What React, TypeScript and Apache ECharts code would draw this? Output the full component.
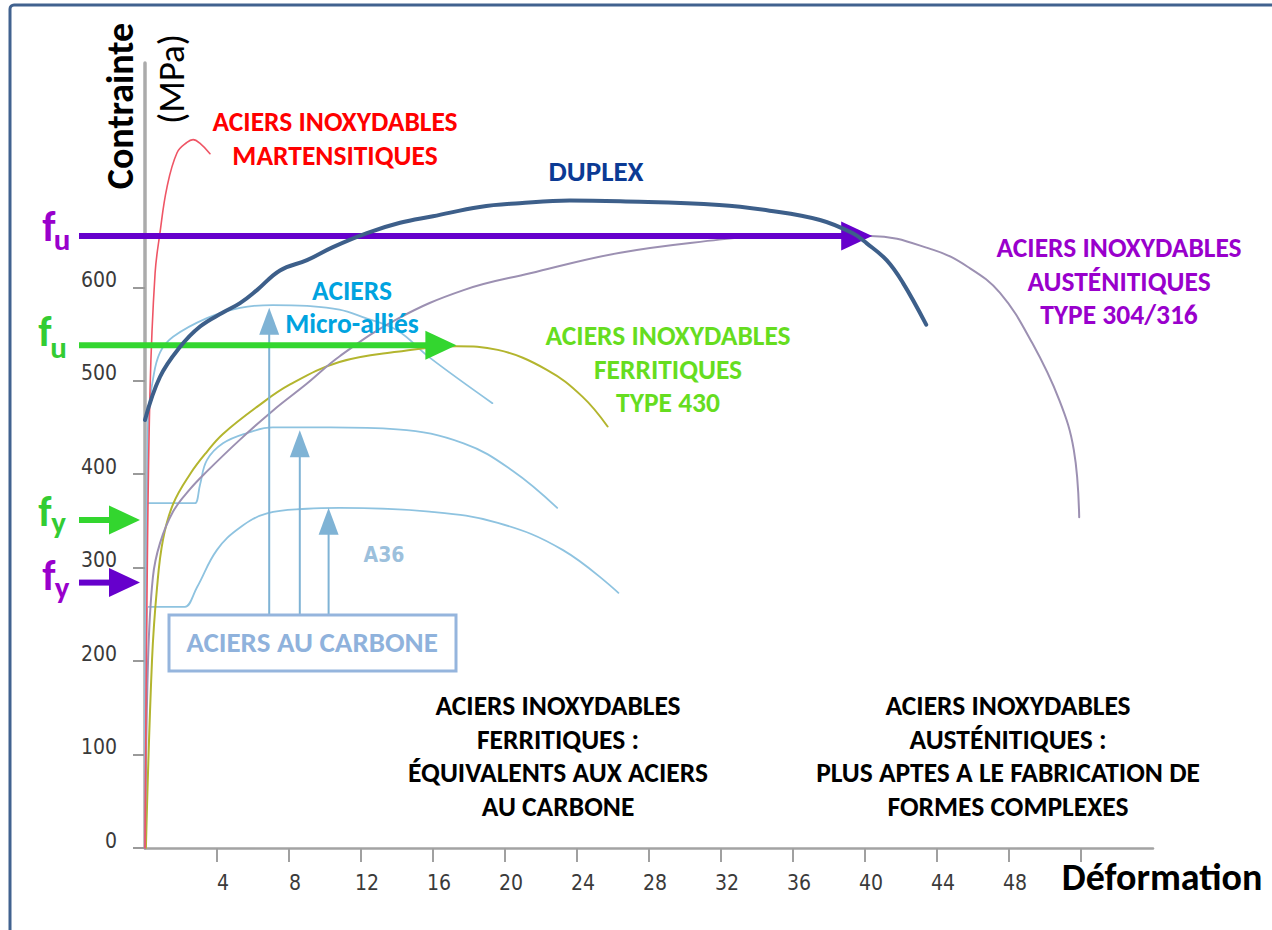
import React, { useEffect, useRef } from "react";
import * as echarts from "echarts";

// ---------- data (strain %, stress MPa) ----------
const xTickValues = [4, 8, 12, 16, 20, 24, 28, 32, 36, 40, 44, 48, 52];
const xLabelValues = [4, 8, 12, 16, 20, 24, 28, 32, 36, 40, 44, 48];
const yLabelValues = [0, 100, 200, 300, 400, 500, 600];

const martensiticX = [0, 0.1, 0.28, 0.56, 0.83, 1.22, 1.78, 2.33, 2.67, 3.06, 3.61];
const martensiticY = [0, 250, 490, 615, 658, 707, 744, 755, 758, 754, 743];

const duplexX = [0, 0.83, 1.94, 3.06, 4.33, 5.28, 6.22, 7.5, 9.0, 10.44, 12.33, 14.17, 16.0, 18.6, 20.8, 23.6, 26.4, 31.9, 34.7, 37.5, 39.3, 40.1, 41.2, 42.1, 43.4];
const duplexY = [458, 504, 536, 558, 573, 583, 597, 618, 629, 643, 658, 669, 676, 686, 690, 693, 692, 688, 682, 672, 658, 647, 629, 605, 560];

const austeniticX = [0, 0.17, 0.44, 0.83, 1.56, 2.5, 3.44, 5.28, 7.1, 9.0, 10.8, 14.0, 17.7, 21.4, 26.4, 31.9, 33.8, 37.0, 40.3, 43.8, 45.7, 47.5, 49.3, 50.8, 51.6, 51.9];
const austeniticY = [0, 201, 290, 326, 360, 384, 403, 437, 468, 497, 526, 566, 597, 615, 637, 651, 654, 655, 655, 640, 622, 594, 540, 479, 426, 354];

const ferriticX = [0.05, 0.39, 0.67, 1.0, 1.56, 2.5, 3.44, 4.33, 6.22, 8.06, 10.8, 14.0, 17.3, 19.6, 22.3, 24.3, 25.7];
const ferriticY = [0, 201, 279, 330, 368, 400, 424, 443, 472, 496, 520, 531, 537, 533, 512, 483, 451];

const microX = [0, 0.17, 0.44, 0.83, 1.56, 3.44, 5.28, 7.1, 9.0, 10.8, 12.1, 14.0, 15.8, 19.3];
const microY = [0, 458, 501, 530, 547, 567, 578, 581, 580, 576, 568, 554, 525, 476];

const carbon450X = [0, 0.17, 2.5, 2.78, 3.06, 3.44, 4.33, 5.67, 7.1, 10.3, 14.0, 17.7, 20.4, 22.9];
const carbon450Y = [0, 369, 369, 369, 389, 415, 433, 444, 450, 450, 448, 433, 404, 364];

const a36X = [0, 0.17, 1.95, 2.22, 2.89, 4.0, 5.28, 6.78, 9.0, 10.8, 15.8, 19.6, 23.2, 26.3];
const a36Y = [0, 258, 258, 258, 279, 319, 343, 358, 363, 364, 360, 348, 319, 273];

// carbon-steel "rise" arrows: x position, tip stress, base stress
const carbonArrowX = [6.9, 8.6, 10.2];
const carbonArrowTip = [578, 447, 364];
const carbonArrowBase = 249;

// f_u / f_y levels (MPa) and where the arrows end (strain)
const fuAusteniticLevel = 655;
const fuAusteniticTipX = 40.4;
const fuFerriticLevel = 538;
const fuFerriticTipX = 17.3;
const fyFerriticLevel = 351;
const fyAusteniticLevel = 284;

const FONT = 'Carlito, Lato, "Open Sans", sans-serif';
const NARROW = '"Liberation Sans Narrow", "DejaVu Sans Condensed", sans-serif';
const PURPLE_ARROW = "#6600cc";
const PURPLE_TEXT = "#9900cc";
const GREEN_ARROW = "#33d62f";
const GREEN_TEXT = "#33cc33";
const CARBON = "#8ec3e0";
const CARBON_ARROW = "#7fb3d5";
const LABEL = 27.5;
const LH = 33.5;

const zip = (xs: number[], ys: number[]) => xs.map((x, i) => [x, ys[i]]);

function lineSeries(name: string, xs: number[], ys: number[], color: string, width: number, z = 2) {
  return {
    name,
    type: "line",
    data: zip(xs, ys),
    showSymbol: false,
    symbol: "none",
    smooth: 0.4,
    clip: false,
    z,
    lineStyle: { color, width, cap: "round", join: "round" },
  };
}

function txt(text: string, x: number, y: number, color: string, size: number, extra: any = {}) {
  return {
    type: "text",
    x,
    y,
    z: 20,
    rotation: extra.rotation || 0,
    style: {
      text,
      fill: color,
      fontSize: size,
      fontWeight: extra.weight || "bold",
      fontFamily: extra.family || FONT,
      align: extra.align || "center",
      verticalAlign: "middle",
      lineHeight: extra.lineHeight || size * 1.2,
    },
  };
}

export default function App() {
  const ref = useRef<HTMLDivElement>(null);

  useEffect(() => {
    const chart = echarts.init(ref.current as HTMLDivElement, null, { renderer: "svg" });
    const option: any = {
      animation: false,
      backgroundColor: "#ffffff",
      grid: { left: 145, top: 63, width: 1008, height: 785, containLabel: false },
      xAxis: {
        type: "value",
        min: 0,
        max: 56,
        interval: 4,
        splitLine: { show: false },
        axisLine: { show: true, lineStyle: { color: "#a3a3a3", width: 2.5 } },
        axisTick: { show: true, customValues: xTickValues, length: 14, lineStyle: { color: "#a0a0a0", width: 2 } },
        axisLabel: {
          show: true,
          customValues: xLabelValues,
          margin: 24,
          color: "#3a3a3a",
          fontFamily: NARROW,
          fontSize: 21,
          padding: [0, 0, 0, 12],
        },
      },
      yAxis: {
        type: "value",
        min: 0,
        max: 840,
        interval: 100,
        splitLine: { show: false },
        axisLine: { show: true, lineStyle: { color: "#ababab", width: 3.5 } },
        axisTick: { show: true, customValues: yLabelValues, length: 12, lineStyle: { color: "#9a9a9a", width: 2 } },
        axisLabel: {
          show: true,
          customValues: yLabelValues,
          margin: 28,
          color: "#3a3a3a",
          fontFamily: NARROW,
          fontSize: 21,
          verticalAlign: "bottom",
          lineHeight: 15,
        },
      },
      series: [
        lineSeries("A36", a36X, a36Y, CARBON, 1.8),
        lineSeries("Carbone 450", carbon450X, carbon450Y, CARBON, 1.8),
        lineSeries("Micro-alliés", microX, microY, CARBON, 1.8),
        lineSeries("Ferritiques 430", ferriticX, ferriticY, "#b3b52e", 2),
        lineSeries("Austénitiques 304/316", austeniticX, austeniticY, "#9c90b2", 2),
        lineSeries("Martensitiques", martensiticX, martensiticY, "#ef5565", 1.6),
        lineSeries("Duplex", duplexX, duplexY, "#3d5f8a", 4, 30),
      ],
    };
    chart.setOption(option);

    const p = (x: number, y: number) => chart.convertToPixel({ gridIndex: 0 }, [x, y]) as number[];
    const els: any[] = [];

    // outer frame
    els.push({
      type: "rect",
      z: 1,
      shape: { x: 10, y: 5, width: 1320, height: 1000, r: 4 },
      style: { fill: "none", stroke: "#41628f", lineWidth: 3 },
    });

    // horizontal arrows (f_u / f_y)
    const hArrow = (level: number, tipX: number, color: string) => {
      const y = p(0, level)[1];
      const headLen = 31;
      els.push({
        type: "line",
        z: 15,
        shape: { x1: 79, y1: y, x2: tipX - headLen + 2, y2: y },
        style: { stroke: color, lineWidth: 6 },
      });
      els.push({
        type: "polygon",
        z: 15,
        shape: { points: [[tipX - headLen, y - 14.5], [tipX, y], [tipX - headLen, y + 14.5]] },
        style: { fill: color },
      });
    };
    hArrow(fuAusteniticLevel, p(fuAusteniticTipX, fuAusteniticLevel)[0], PURPLE_ARROW);
    hArrow(fuFerriticLevel, p(fuFerriticTipX, fuFerriticLevel)[0], GREEN_ARROW);
    hArrow(fyFerriticLevel, p(0, fyFerriticLevel)[0] - 5, GREEN_ARROW);
    hArrow(fyAusteniticLevel, p(0, fyAusteniticLevel)[0] - 5, PURPLE_ARROW);

    // carbon steel vertical arrows
    carbonArrowX.forEach((cx, i) => {
      const base = p(cx, carbonArrowBase);
      const tip = p(cx, carbonArrowTip[i]);
      els.push({
        type: "line",
        z: 6,
        shape: { x1: base[0], y1: base[1], x2: tip[0], y2: tip[1] + 20 },
        style: { stroke: CARBON_ARROW, lineWidth: 2 },
      });
      els.push({
        type: "polygon",
        z: 6,
        shape: { points: [[tip[0] - 10, tip[1] + 27], [tip[0], tip[1]], [tip[0] + 10, tip[1] + 27]] },
        style: { fill: CARBON_ARROW },
      });
    });

    // "ACIERS AU CARBONE" box
    els.push({
      type: "rect",
      z: 7,
      shape: { x: 169, y: 615, width: 287, height: 56 },
      style: { fill: "#ffffff", stroke: "#95b5dd", lineWidth: 3 },
    });
    els.push(txt("ACIERS AU CARBONE", 312, 642, "#8fb2dc", 29));

    // f labels
    const fLabel = (fx: number, fy: number, sub: string, sx: number, sy: number, color: string) => {
      els.push(txt("f", fx, fy, color, 42));
      els.push(txt(sub, sx, sy, color, 31));
    };
    fLabel(49, 226, "u", 62, 239, PURPLE_TEXT);
    fLabel(45, 331, "u", 58.5, 347, GREEN_TEXT);
    fLabel(45, 511, "y", 58.5, 522, GREEN_TEXT);
    fLabel(49, 575, "y", 62, 587, PURPLE_TEXT);

    // axis titles
    els.push(txt("Contrainte", 120, 106, "#000000", 38, { rotation: Math.PI / 2 }));
    els.push(txt("(MPa)", 171, 79, "#000000", 37, { rotation: Math.PI / 2, weight: "normal" }));
    els.push(txt("Déformation", 1162, 877, "#000000", 38));

    // curve labels
    els.push(txt("ACIERS INOXYDABLES\nMARTENSITIQUES", 335, 138.5, "#ff0000", LABEL, { lineHeight: LH }));
    els.push(txt("DUPLEX", 596, 171, "#0b3a94", 29));
    els.push(txt("ACIERS\nMicro-alliés", 352, 307, "#00a3df", LABEL, { lineHeight: LH }));
    els.push(txt("ACIERS INOXYDABLES\nFERRITIQUES\nTYPE 430", 668, 369, "#66dd1f", LABEL, { lineHeight: LH }));
    els.push(txt("ACIERS INOXYDABLES\nAUSTÉNITIQUES\nTYPE 304/316", 1119, 281, PURPLE_TEXT, LABEL, { lineHeight: LH }));
    els.push(txt("A36", 384, 555, "#9cc0dc", 21, { family: NARROW }));

    // explanatory blocks
    els.push(txt("ACIERS INOXYDABLES\nFERRITIQUES :\nÉQUIVALENTS AUX ACIERS\nAU CARBONE", 558, 756, "#000000", LABEL, { lineHeight: LH }));
    els.push(txt("ACIERS INOXYDABLES\nAUSTÉNITIQUES :\nPLUS APTES A LE FABRICATION DE\nFORMES COMPLEXES", 1008, 756, "#000000", LABEL, { lineHeight: LH }));

    chart.setOption({ graphic: { elements: els } });

    return () => chart.dispose();
  }, []);

  return (
    <div
      ref={ref}
      style={{ position: "absolute", left: 0, top: 0, width: 1272, height: 930, background: "#ffffff" }}
    />
  );
}
